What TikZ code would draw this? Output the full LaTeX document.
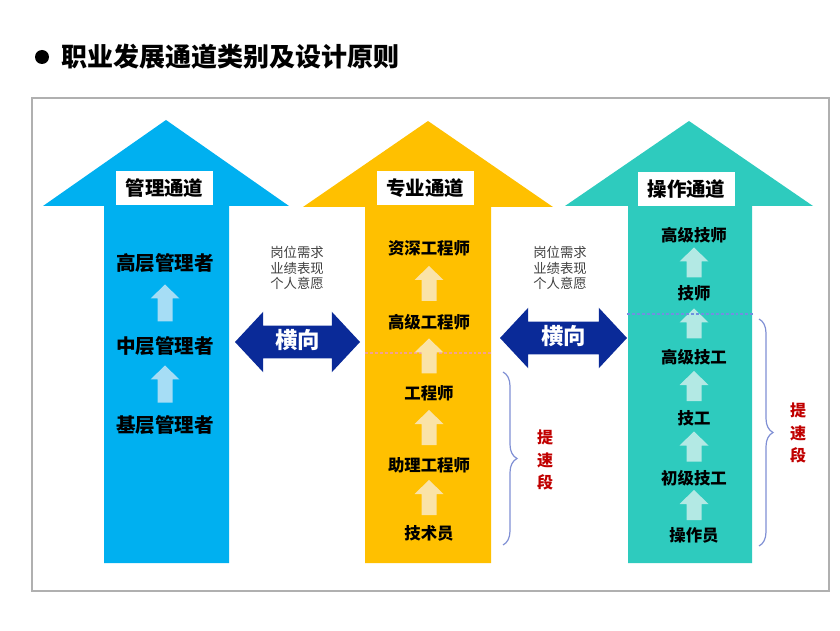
\documentclass[tikz,border=0pt]{standalone}
\usepackage{fontspec}
\newfontfamily\cjk{Noto Sans CJK SC}
\usepackage{tikz}
\usetikzlibrary{shapes.arrows}
\usetikzlibrary{calc}
\usetikzlibrary{decorations.pathreplacing}
\definecolor{laneBlue}{HTML}{00B0F0}
\definecolor{laneGold}{HTML}{FFC000}
\definecolor{laneTeal}{HTML}{2ECBBE}
\definecolor{paleBlue}{HTML}{A6DDF5}
\definecolor{paleGold}{HTML}{FAE3A8}
\definecolor{paleTeal}{HTML}{B3E9E4}
\definecolor{crossNavy}{HTML}{0A2A98}
\definecolor{braceBlue}{HTML}{7F8FD4}
\definecolor{speedRed}{HTML}{C00000}
\definecolor{frameGray}{HTML}{B0B0B0}
\definecolor{memoGray}{HTML}{404040}
\definecolor{cutRed}{HTML}{F2A090}
\definecolor{cutBlue}{HTML}{7090E0}
\tikzstyle{badge} = [fill=white, font={\cjk\bfseries\fontsize{14.6}{16}\selectfont},
        minimum width=72.75pt, minimum height=25.5pt, inner sep=0pt]
\tikzstyle{rung} = [font={\cjk\bfseries\fontsize{12.3}{14}\selectfont}, inner sep=0pt]
\tikzstyle{bigrung} = [font={\cjk\bfseries\fontsize{14.7}{16}\selectfont}, inner sep=0pt]
\tikzstyle{memo} = [align=center, text=memoGray, font={\cjk\fontsize{10}{11.6}\selectfont}]
\tikzstyle{speedup} = [align=center, text=speedRed, font={\cjk\bfseries\fontsize{12}{17.2}\selectfont}]
\tikzstyle{sideway} = [double arrow, fill=crossNavy, text=white,
        font={\cjk\bfseries\fontsize{16.8}{18}\selectfont}, text height=12.5pt, text depth=2.5pt,
        inner ysep=4.5pt, inner xsep=0pt, double arrow head extend=10.5pt, double arrow tip angle=94]
\tikzstyle{gap} = [decorate, decoration={brace, amplitude=10.5pt}, draw=braceBlue, line width=0.9pt]
\tikzstyle{cut} = [dash pattern=on 2.2pt off 1.5pt, line width=0.8pt]
\tikzset{lift/.style={to path={
    ($(\tikztostart)!.5!(\tikztotarget)+(-7.5,#1/2-1.5)$) -- ++(0,{14-#1}) -- ++(-7,0)
    -- ++(14.5,-14) -- ++(14.5,14) -- ++(-7,0) -- ++(0,{#1-14}) -- cycle}}}

\begin{document}
\begin{tikzpicture}[x=0.75pt, y=-0.75pt]
    \useasboundingbox (0,0) rectangle (840,631);
    % title
    \node [circle, fill=black, minimum size=10.5pt, inner sep=0pt] (dot) at (42,57) {};
    \node [anchor=west, inner sep=0pt, font={\cjk\bfseries\fontsize{19.5}{22}\selectfont}] (title) at (61,57) {职业发展通道类别及设计原则};
    \draw [frameGray, line width=2pt] (32,98) rectangle (829,591);
    % the three lanes
    \fill [laneBlue] (104,563) -- (104,206) -- (43,206) -- (166,120) -- (289,206) -- (229,206) -- (229,563) -- cycle;
    \fill [laneGold] (365,563) -- (365,207) -- (303,207) -- (428,121) -- (553,207) -- (491,207) -- (491,563) -- cycle;
    \fill [laneTeal] (628,563) -- (628,206) -- (565,206) -- (689,121) -- (813,206) -- (752,206) -- (752,563) -- cycle;
    \node [badge] (mgmt) at (164.5,188) {管理通道};
    \node [badge] (prof) at (425,188) {专业通道};
    \node [badge] (oper) at (686.5,189) {操作通道};
    % management rungs
    \node [bigrung] (mgHigh) at (165,263) {高层管理者};
    \node [bigrung] (mgMid) at (165,346) {中层管理者};
    \node [bigrung] (mgBase) at (165,425) {基层管理者};
    \fill [paleBlue, lift=37] (mgMid) to (mgHigh);
    \fill [paleBlue, lift=37] (mgBase) to (mgMid);
    % professional rungs
    \draw [cut, cutRed] (365,353) -- (491,353);
    \node [rung] (prSenior) at (429,248) {资深工程师};
    \node [rung] (prHigh) at (429,322) {高级工程师};
    \node [rung] (prEng) at (429,393) {工程师};
    \node [rung] (prAssist) at (429,465) {助理工程师};
    \node [rung] (prTech) at (429,533) {技术员};
    \fill [paleGold, lift=35] (prHigh) to (prSenior);
    \fill [paleGold, lift=35] (prEng) to (prHigh);
    \fill [paleGold, lift=35] (prAssist) to (prEng);
    \fill [paleGold, lift=35] (prTech) to (prAssist);
    % operation rungs
    \node [rung] (opMaster) at (694,235) {高级技师};
    \node [rung] (opTechn) at (694,293) {技师};
    \node [rung] (opSenior) at (694,357) {高级技工};
    \node [rung] (opSkill) at (694,418) {技工};
    \node [rung] (opJunior) at (694,478) {初级技工};
    \node [rung] (opWorker) at (694,535) {操作员};
    \fill [paleTeal, lift=30] (opTechn) to (opMaster);
    \fill [paleTeal, lift=30] (opSenior) to (opTechn);
    \fill [paleTeal, lift=30] (opSkill) to (opSenior);
    \fill [paleTeal, lift=30] (opJunior) to (opSkill);
    \fill [paleTeal, lift=30] (opWorker) to (opJunior);
    \draw [cut, cutBlue] (627,314) -- (754,314);
    % crossing between lanes
    \node [memo] (need1) at (297,268) {岗位需求\\业绩表现\\个人意愿};
    \node [memo] (need2) at (560,268) {岗位需求\\业绩表现\\个人意愿};
    \node [sideway, minimum height=93.75pt] (cross1) at (297.5,342) {横向};
    \node [sideway, minimum height=95.25pt] (cross2) at (563.5,338) {横向};
    % speed-up segments
    \coordinate (profTop) at (503,372);
    \coordinate (profEnd) at (503,545);
    \coordinate (operTop) at (759,319);
    \coordinate (operEnd) at (759,546);
    \draw [gap] (profTop) -- (profEnd);
    \draw [gap] (operTop) -- (operEnd);
    \node [speedup] (fast1) at (545,460) {提\\速\\段};
    \node [speedup] (fast2) at (798,433) {提\\速\\段};
\end{tikzpicture}
\end{document}
